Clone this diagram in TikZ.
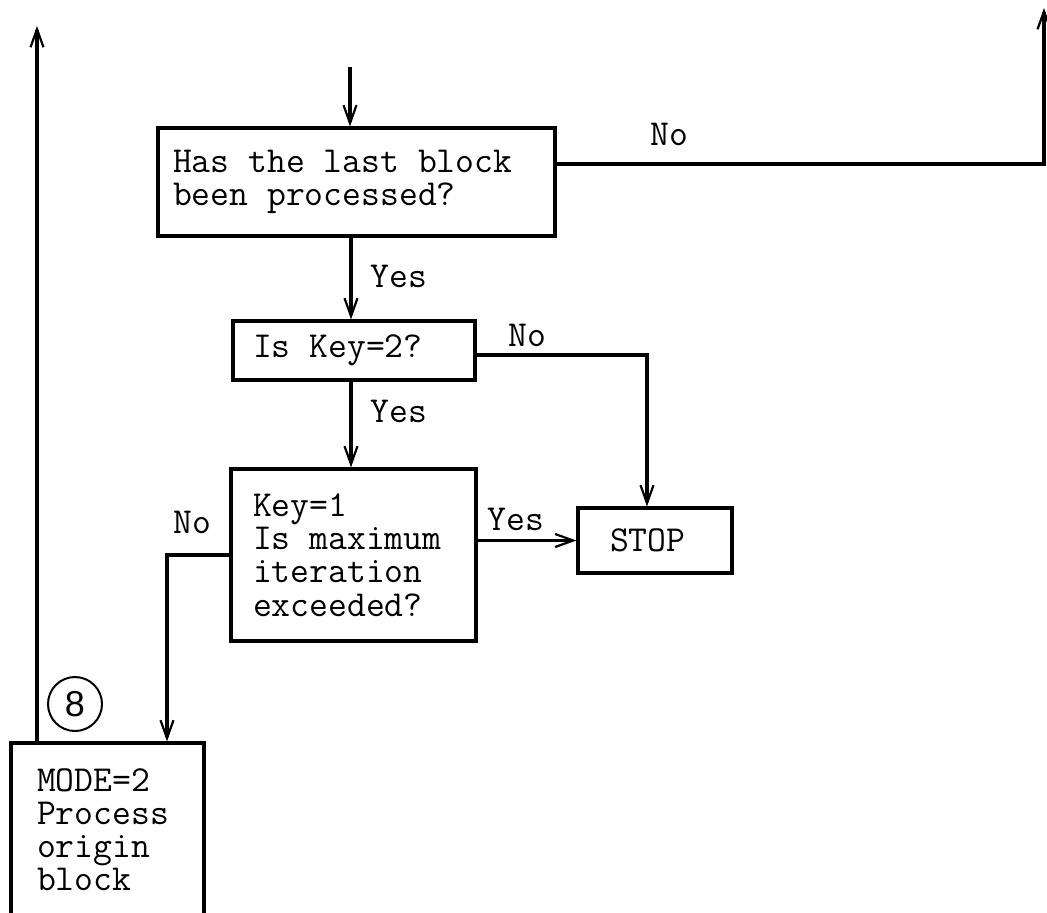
\documentclass[tikz,border=0pt]{standalone}
\usepackage{fontspec}
\newfontfamily\circfont{Liberation Sans}
\newcommand\typesize{\ttfamily\fontsize{18.3}{16.6}\selectfont}
\newcommand\spc{\hphantom{x}}
\usetikzlibrary{arrows.meta}
\tikzset{
  box/.style={rectangle,draw,line width=1.6pt,align=left,inner ysep=0pt,font=\typesize},
  answer/.style={inner sep=0pt,font=\typesize},
  conn/.style={circle,draw,line width=1pt,minimum size=27pt,inner sep=0pt,font=\circfont\fontsize{18}{18}\selectfont},
  line/.style={line width=1.6pt,-{Straight Barb[length=9pt,width=6.5pt,line width=1.1pt]}}
}
\begin{document}
\begin{tikzpicture}[x=0.5pt,y=-0.5pt]
\useasboundingbox (0,0) rectangle (1047,912);
\clip (0,0) rectangle (1047,912);
\node[box, text width=183.5pt, inner xsep=7.5pt, minimum height=54pt] (last) at (356.5,182) {Has\spc the\spc last\spc block\\been\spc processed?};
\node[box, text width=101pt, inner xsep=10pt, minimum height=29.5pt] (key2) at (354,350.5) {Is\spc Key=2?};
\node[box, text width=100.5pt, inner xsep=11pt, minimum height=86pt] (maxit) at (353.5,555) {Key=1\\Is\spc maximum\\iteration\\exceeded?};
\node[box, text width=45pt, inner xsep=16pt, minimum height=32.5pt] (stop) at (655,540.5) {STOP};
\node[box, text width=70.5pt, inner xsep=13pt, minimum height=86.5pt] (origin) at (107.5,829.5) {MODE=2\\Process\\origin\\block};
\node[conn] (eight) at (75,704) {8};

% answers on the branches
\node[answer, anchor=base west] (no1) at (650,145) {No};
\node[answer, anchor=base west] (yes1) at (370,287) {Yes};
\node[answer, anchor=base west] (no2) at (508,346) {No};
\node[answer, anchor=base west] (yes2) at (370,422) {Yes};
\node[answer, anchor=base west] (yes3) at (487,530) {Yes};
\node[answer, anchor=base west] (no3) at (173,533) {No};

\coordinate (entry) at (350,67);
\coordinate (spine) at (351,0);
\coordinate (loopR) at (1044,164);
\coordinate (tipR) at (1044,8);
\coordinate (branch2) at (647,355);
\coordinate (noturn) at (167,0);
\coordinate (tipL) at (37,26);

\draw[line] (entry) -- (entry |- last.north);
\draw[line] (last.east |- loopR) -- (loopR) -- (tipR);
\draw[line] (spine |- last.south) -- (spine |- key2.north);
\draw[line] (key2.east |- branch2) -- (branch2) -- (branch2 |- stop.north);
\draw[line] (spine |- key2.south) -- (spine |- maxit.north);
\draw[line] (maxit.east |- stop.west) -- (stop.west);
\draw[line] (maxit.west) -- (maxit.west -| noturn) -- (noturn |- origin.north);
\draw[line] (tipL |- origin.north) -- (tipL);
\end{tikzpicture}
\end{document}
